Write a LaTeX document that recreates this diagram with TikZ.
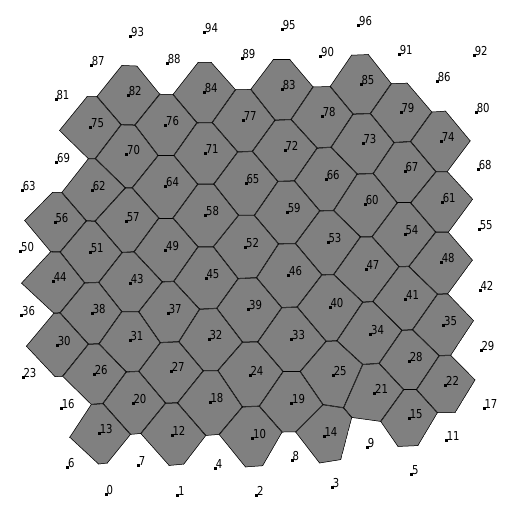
\documentclass[tikz,border=0pt]{standalone}
\usepackage{fontspec}
\setmainfont[FakeStretch=0.82]{DejaVu Sans}

% sites 0..96 in pixel coordinates (y downwards)
\newcommand\sites{106/494.3, 177.7/495.3, 256.7/495, 332.3/487.7, 215.3/468.3,
  411.7/474, 67.7/467.3, 138.3/465, 292/460.7, 367.3/447.3,
  252.7/438, 446.3/440.3, 172/435, 99.3/433.3, 324/436,
  409.3/418.3, 61.3/408.3, 484/408.7, 210/402, 291.7/403.7,
  133/403.3, 374.7/393.3, 445.7/385.3, 23/377.3, 250/375,
  333.3/375, 94.3/374.7, 171.3/371, 409.3/361, 481/350.3,
  57.3/345, 130/340, 209/339.3, 291.7/339.3, 370.7/334.3,
  443.7/325.7, 21.7/315.3, 168.3/313.3, 92.3/313.3, 248.7/309,
  330/307, 405.7/299, 480/290.7, 130.3/283.3, 53.3/281.3,
  206/278.3, 288.7/275.3, 366/269.3, 441.3/262.3, 165.7/250,
  20.7/251, 90.3/252, 245.7/247.3, 328/242.3, 405/234,
  479.3/229.3, 55/222.3, 126.3/221, 205.7/215.3, 287.3/212,
  365.3/204.3, 442.3/202, 92.3/190, 22.3/190, 165.7/186,
  246/183.3, 326.3/179, 405/171.7, 478.3/169, 56.7/162,
  126.7/154.7, 205.3/153, 285/150.3, 363/143.3, 441.3/141.3,
  90.7/127.3, 165.7/125, 243.3/120, 322.3/116.3, 401/112.3,
  476.3/112.3, 56/99, 128.3/95, 282.3/89.3, 204.3/92.3,
  361/84.3, 437.3/81.3, 91.3/65.3, 167.3/63.3, 242/58.7,
  320.7/56.7, 399.3/54, 474.3/55.3, 130.7/36, 204.7/32,
  282.3/29.3, 358.7/25}
% sites whose cell is filled
\newcommand\cells{10,12,13,14,15,18,19,20,21,22,24,25,26,27,28,30,31,32,33,34,35,
  37,38,39,40,41,43,44,45,46,47,48,49,51,52,53,54,56,57,58,59,60,61,62,64,65,
  66,67,70,71,72,73,74,75,76,77,78,79,82,83,84,85}

\begin{document}
\begin{tikzpicture}[x=1pt, y=-1pt,
    cell/.style={fill=gray},
    edge/.style={draw=black, line width=1pt},
    site/.style={rectangle, fill=black, inner sep=0pt, minimum size=3pt},
    tag/.style={anchor=base west, inner sep=0pt, xshift=0.3pt, font=\fontsize{12.3}{12.3}\selectfont}]
  \useasboundingbox (0,0) rectangle (512,512);

  % store the sites
  \foreach \sx/\sy [count=\k from 0] in \sites {
    \expandafter\xdef\csname sx\k\endcsname{\sx}
    \expandafter\xdef\csname sy\k\endcsname{\sy}
  }

  % Voronoi cells: intersect the half planes towards each close site
  \foreach \c in \cells {
    \begin{scope}
      \foreach \k in {0,...,96} {
        \ifnum\k=\c\relax\else
          \pgfmathsetmacro\dx{\csname sx\k\endcsname-\csname sx\c\endcsname}
          \pgfmathsetmacro\dy{\csname sy\k\endcsname-\csname sy\c\endcsname}
          \pgfmathtruncatemacro\near{and(abs(\dx)<110, abs(\dy)<110)}
          \ifnum\near=1
            \pgfmathsetmacro\mx{(\csname sx\k\endcsname+\csname sx\c\endcsname)/2}
            \pgfmathsetmacro\my{(\csname sy\k\endcsname+\csname sy\c\endcsname)/2}
            \pgfmathsetmacro\ang{atan2(\csname sy\c\endcsname-\csname sy\k\endcsname, \dx)}
            \clip[shift={(\mx,\my)}, rotate=\ang] (0pt,-400pt) rectangle (-400pt,400pt);
          \fi
        \fi
      }
      \fill[cell] (0,0) rectangle (512,512);
      \foreach \k in {0,...,96} {
        \ifnum\k=\c\relax\else
          \pgfmathsetmacro\dx{\csname sx\k\endcsname-\csname sx\c\endcsname}
          \pgfmathsetmacro\dy{\csname sy\k\endcsname-\csname sy\c\endcsname}
          \pgfmathtruncatemacro\near{and(abs(\dx)<110, abs(\dy)<110)}
          \ifnum\near=1
            \pgfmathsetmacro\mx{(\csname sx\k\endcsname+\csname sx\c\endcsname)/2}
            \pgfmathsetmacro\my{(\csname sy\k\endcsname+\csname sy\c\endcsname)/2}
            \pgfmathsetmacro\ang{atan2(\csname sy\c\endcsname-\csname sy\k\endcsname, \dx)}
            \draw[edge, shift={(\mx,\my)}, rotate=\ang] (0pt,-400pt) -- (0pt,400pt);
          \fi
        \fi
      }
    \end{scope}
  }

  % sites and their numbers
  \foreach \sx/\sy [count=\k from 0] in \sites {
    \node[site] (s\k) at (\sx,\sy) {};
    \node[tag] (t\k) at (s\k.center) {\k};
  }
\end{tikzpicture}
\end{document}
